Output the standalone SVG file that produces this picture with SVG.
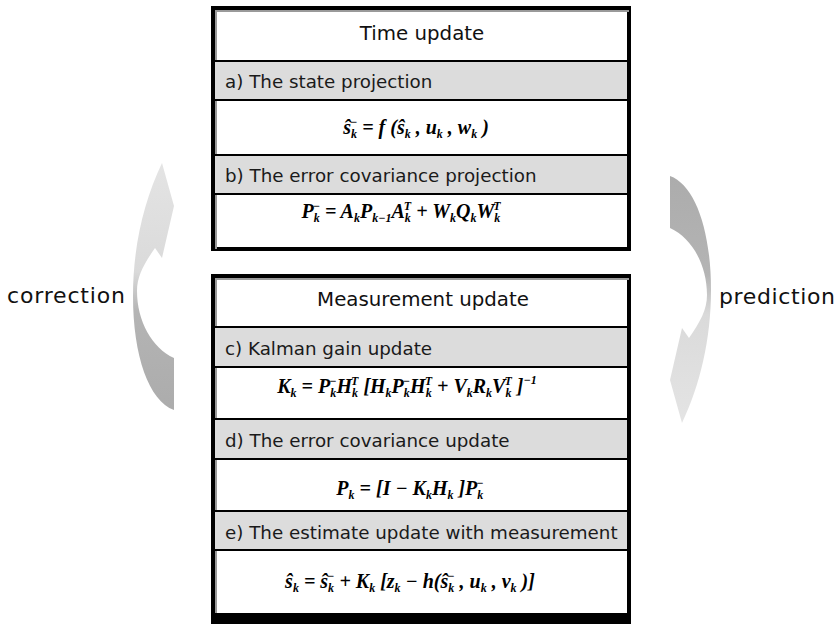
<svg xmlns="http://www.w3.org/2000/svg" width="839" height="624" viewBox="0 0 839 624">
<style>
.frame{fill:#fff;stroke:#000;stroke-width:4}
.hl{fill:none;stroke:#9a9a9a;stroke-width:2}
.row{fill:#dcdcdc}
.sep{stroke:#000;stroke-width:2}
.ttl{font-family:"DejaVu Sans",sans-serif;font-size:19.8px;fill:#111;text-anchor:middle}
.lbl{font-family:"DejaVu Sans",sans-serif;font-size:18.3px;fill:#1a1a1a}
.side{font-family:"DejaVu Sans",sans-serif;font-size:22px;fill:#111}
.f{font-family:"Liberation Serif",serif;font-weight:bold;font-style:italic;font-size:20px;fill:#000;text-anchor:middle}
.s{font-size:12px}
</style>
<defs>
<linearGradient id="arrowGrad" x1="0" y1="0" x2="0" y2="1">
<stop offset="0" stop-color="#acacac"/>
<stop offset="0.4" stop-color="#b4b4b4"/>
<stop offset="0.56" stop-color="#dadada"/>
<stop offset="1" stop-color="#e4e4e4"/>
</linearGradient>
<path id="crescent" d="M670,176 C695,185 711,230 711,290 C711,340 700,385 682,423 L670,380 L682,328 L689,338 C700,322 707,310 707,295 C707,265 692,238 670,228 Z"/>
</defs>
<rect width="839" height="624" fill="#fff"/>

<g id="connectors">
<use href="#crescent" fill="url(#arrowGrad)"/>
<use href="#crescent" fill="url(#arrowGrad)" transform="rotate(180 422 293)"/>
</g>

<g id="label-correction"><text class="side" x="7" y="303" textLength="118">correction</text></g>
<g id="label-prediction"><text class="side" x="719" y="304" textLength="116">prediction</text></g>

<g id="time-update">
<rect class="frame" x="213" y="8" width="416" height="241"/>
<polyline class="hl" points="216,249 216,11 629,11"/>
<rect class="row" x="215" y="61" width="412" height="39"/>
<rect class="row" x="215" y="155" width="412" height="39"/>
<line class="sep" x1="215" y1="61" x2="627" y2="61"/>
<line class="sep" x1="215" y1="100" x2="627" y2="100"/>
<line class="sep" x1="215" y1="155" x2="627" y2="155"/>
<line class="sep" x1="215" y1="194" x2="627" y2="194"/>
<text class="ttl" x="422" y="40">Time update</text>
<text class="lbl" x="225" y="88">a) The state projection</text>
<text class="f" x="416" y="134">ŝ<tspan class="s" dy="4">k</tspan><tspan class="s" dx="-7" dy="-12">−</tspan><tspan dy="8"> = f (ŝ</tspan><tspan class="s" dy="4">k</tspan><tspan dy="-4"> , u</tspan><tspan class="s" dy="4">k</tspan><tspan dy="-4"> , w</tspan><tspan class="s" dy="4">k</tspan><tspan dy="-4"> )</tspan></text>
<text class="lbl" x="225" y="182">b) The error covariance projection</text>
<text class="f" x="401" y="218">P<tspan class="s" dy="4">k</tspan><tspan class="s" dx="-7" dy="-12">−</tspan><tspan dy="8"> = A</tspan><tspan class="s" dy="4">k</tspan><tspan dy="-4">P</tspan><tspan class="s" dy="4">k−1</tspan><tspan dy="-4">A</tspan><tspan class="s" dy="4">k</tspan><tspan class="s" dx="-7" dy="-12">T</tspan><tspan dy="8"> + W</tspan><tspan class="s" dy="4">k</tspan><tspan dy="-4">Q</tspan><tspan class="s" dy="4">k</tspan><tspan dy="-4">W</tspan><tspan class="s" dy="4">k</tspan><tspan class="s" dx="-7" dy="-12">T</tspan></text>
</g>

<g id="measurement-update">
<rect class="frame" x="213" y="276" width="416" height="342"/>
<polyline class="hl" points="216,613 216,279 629,279"/>
<rect class="row" x="215" y="327" width="412" height="40"/>
<rect class="row" x="215" y="419" width="412" height="40"/>
<rect class="row" x="215" y="511" width="412" height="39"/>
<line class="sep" x1="215" y1="327" x2="627" y2="327"/>
<line class="sep" x1="215" y1="367" x2="627" y2="367"/>
<line class="sep" x1="215" y1="419" x2="627" y2="419"/>
<line class="sep" x1="215" y1="459" x2="627" y2="459"/>
<line class="sep" x1="215" y1="511" x2="627" y2="511"/>
<line class="sep" x1="215" y1="550" x2="627" y2="550"/>
<rect x="211" y="613" width="420" height="11" fill="#000"/>
<text class="ttl" x="423" y="306">Measurement update</text>
<text class="lbl" x="225" y="355">c) Kalman gain update</text>
<text class="f" x="407" y="393">K<tspan class="s" dy="4">k</tspan><tspan dy="-4"> = P</tspan><tspan class="s" dy="4">k</tspan><tspan class="s" dx="-7" dy="-12">−</tspan><tspan dy="8">H</tspan><tspan class="s" dy="4">k</tspan><tspan class="s" dx="-7" dy="-12">T</tspan><tspan dy="8"> [H</tspan><tspan class="s" dy="4">k</tspan><tspan dy="-4">P</tspan><tspan class="s" dy="4">k</tspan><tspan class="s" dx="-7" dy="-12">−</tspan><tspan dy="8">H</tspan><tspan class="s" dy="4">k</tspan><tspan class="s" dx="-7" dy="-12">T</tspan><tspan dy="8"> + V</tspan><tspan class="s" dy="4">k</tspan><tspan dy="-4">R</tspan><tspan class="s" dy="4">k</tspan><tspan dy="-4">V</tspan><tspan class="s" dy="4">k</tspan><tspan class="s" dx="-7" dy="-12">T</tspan><tspan dy="8"> ]</tspan><tspan class="s" dy="-9">−1</tspan></text>
<text class="lbl" x="225" y="447">d) The error covariance update</text>
<text class="f" x="410" y="495">P<tspan class="s" dy="4">k</tspan><tspan dy="-4"> = [I − K</tspan><tspan class="s" dy="4">k</tspan><tspan dy="-4">H</tspan><tspan class="s" dy="4">k</tspan><tspan dy="-4"> ]P</tspan><tspan class="s" dy="4">k</tspan><tspan class="s" dx="-7" dy="-12">−</tspan></text>
<text class="lbl" x="225" y="539">e) The estimate update with measurement</text>
<text class="f" x="410" y="588">ŝ<tspan class="s" dy="4">k</tspan><tspan dy="-4"> = ŝ</tspan><tspan class="s" dy="4">k</tspan><tspan class="s" dx="-7" dy="-12">−</tspan><tspan dy="8"> + K</tspan><tspan class="s" dy="4">k</tspan><tspan dy="-4"> [z</tspan><tspan class="s" dy="4">k</tspan><tspan dy="-4"> − h(ŝ</tspan><tspan class="s" dy="4">k</tspan><tspan class="s" dx="-7" dy="-12">−</tspan><tspan dy="8"> , u</tspan><tspan class="s" dy="4">k</tspan><tspan dy="-4"> , v</tspan><tspan class="s" dy="4">k</tspan><tspan dy="-4"> )]</tspan></text>
</g>
</svg>
